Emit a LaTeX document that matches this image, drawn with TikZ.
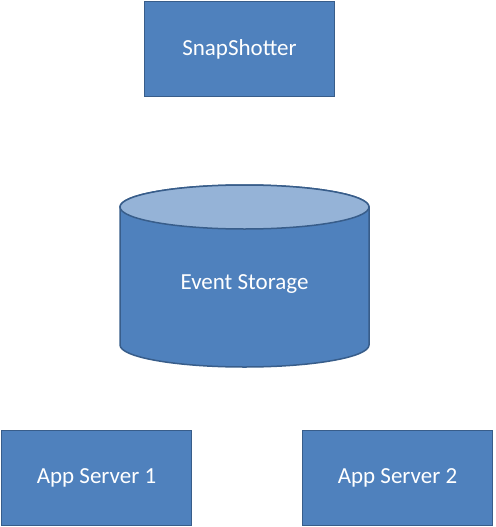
\documentclass[tikz,border=0pt]{standalone}
\usepackage{fontspec}
\setmainfont{Carlito}
\definecolor{boxfill}{HTML}{4F81BD}
\definecolor{boxline}{HTML}{385D8A}
\definecolor{topfill}{HTML}{95B3D7}
\begin{document}
\begin{tikzpicture}[x=1pt,y=-1pt,
  labelfont/.style={text=white,font=\fontsize{23}{27}\selectfont},
  boxstyle/.style={draw=boxline,fill=boxfill,line width=1.5pt,minimum width=190pt,minimum height=95pt,inner sep=0pt,labelfont}]
\useasboundingbox (0,0) rectangle (495,527);
\node[boxstyle] (snap) at (239.5,49) {SnapShotter};
\node[boxstyle] (app1) at (96.5,478) {App Server 1};
\node[boxstyle] (app2) at (397.5,478) {App Server 2};
% cylinder
\draw[draw=boxline,fill=boxfill,line width=1.5pt] (120,207) -- (120,345) arc[start angle=180,end angle=0,x radius=124.5,y radius=22] -- (369,207) arc[start angle=0,end angle=-180,x radius=124.5,y radius=22] -- cycle;
\draw[draw=boxline,fill=topfill,line width=1.5pt] (244.5,207) ellipse[x radius=124.5,y radius=22];
\node[labelfont] (store) at (244.5,284) {Event Storage};
\end{tikzpicture}
\end{document}
